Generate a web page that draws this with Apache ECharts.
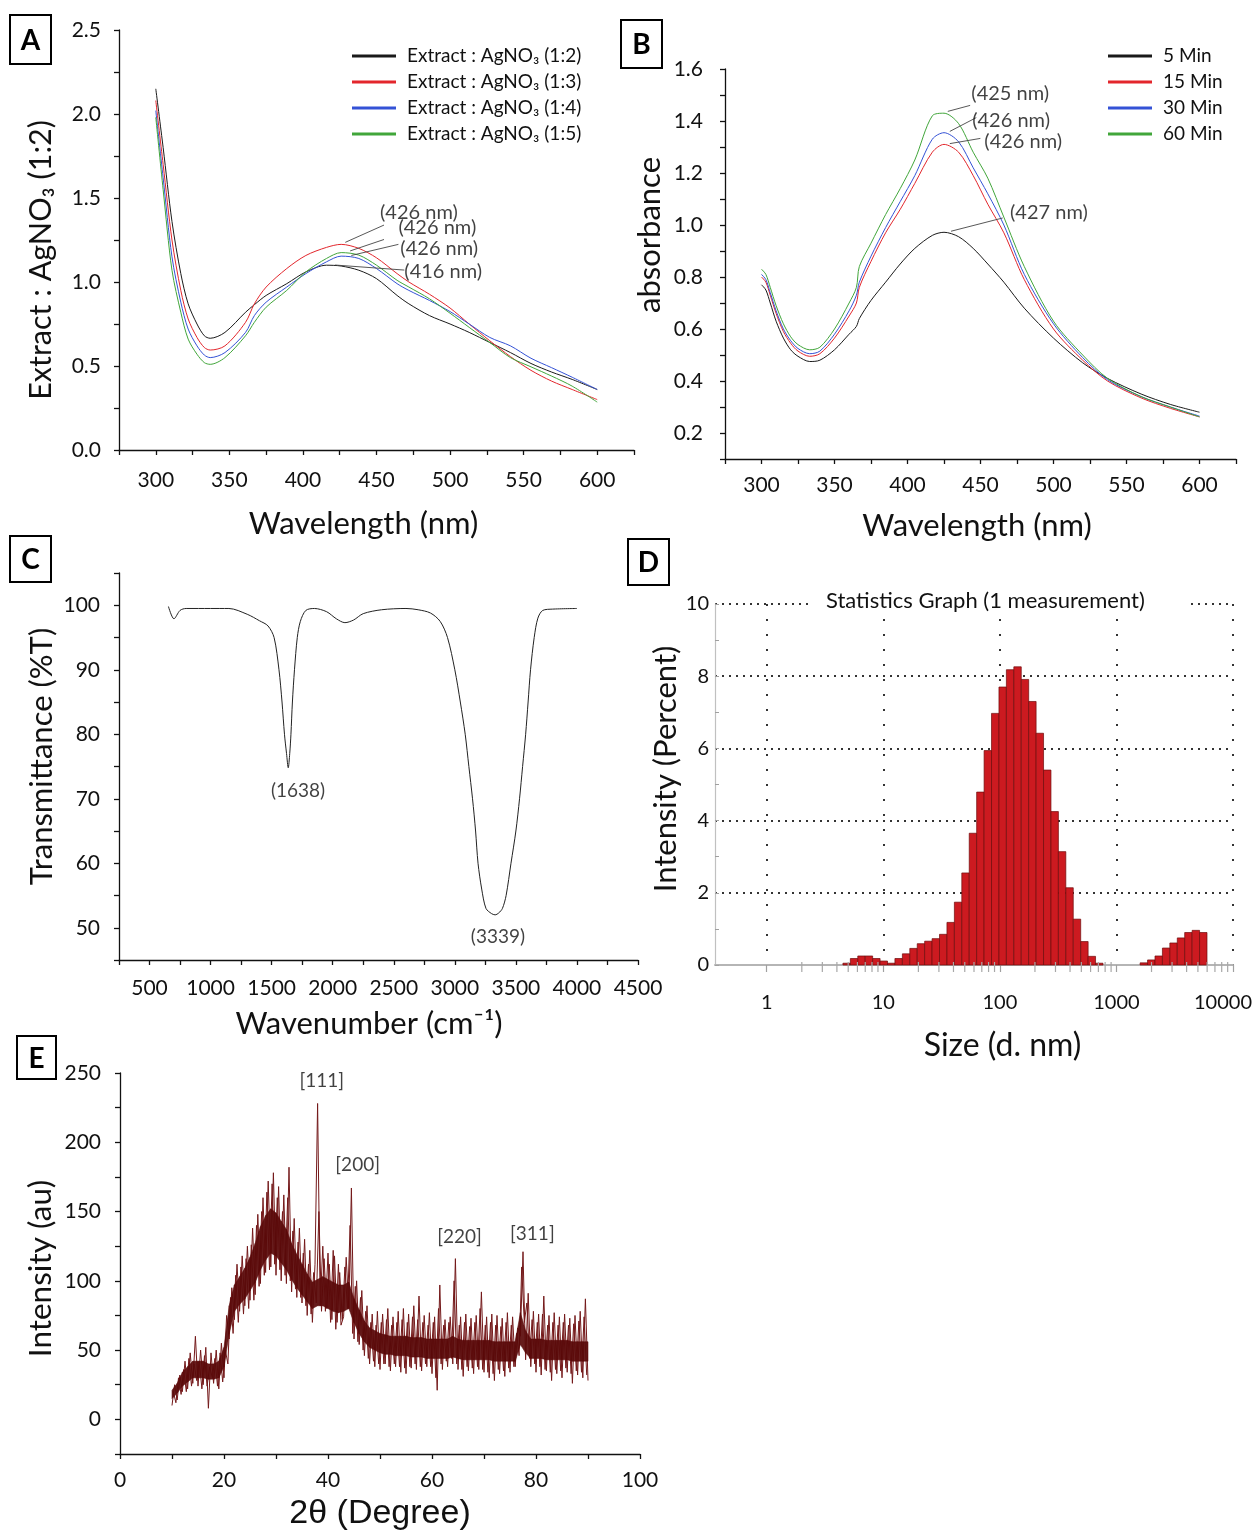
<!DOCTYPE html>
<html><head><meta charset="utf-8">
<script src="https://cdn.jsdelivr.net/npm/echarts@6/dist/echarts.min.js"></script>
<style>html,body{margin:0;padding:0;background:#fff}#c{width:1253px;height:1531px}</style>
</head><body><div id="c"></div>
<script>
// ---------- Panel A : UV-vis, extract : AgNO3 ratios ----------
var waveA = [300,305,311,317,322,328,333,337,347,361,367,375,389,402,416,426,438,450,464,472,486,500,513,527,541,555,569,583,600];
var absA_12 = [2.15,1.80,1.36,1.05,0.87,0.75,0.68,0.665,0.70,0.82,0.865,0.92,0.99,1.06,1.10,1.095,1.07,1.02,0.92,0.87,0.80,0.75,0.70,0.64,0.58,0.515,0.464,0.42,0.36];
var absA_13 = [2.08,1.70,1.25,0.95,0.78,0.67,0.61,0.595,0.62,0.76,0.87,0.97,1.08,1.158,1.206,1.224,1.20,1.144,1.05,1.00,0.927,0.845,0.75,0.65,0.556,0.474,0.41,0.36,0.30];
var absA_14 = [2.02,1.62,1.15,0.88,0.72,0.62,0.565,0.55,0.58,0.70,0.80,0.88,0.97,1.05,1.12,1.154,1.14,1.08,0.99,0.95,0.89,0.824,0.75,0.67,0.62,0.546,0.49,0.433,0.36];
var absA_15 = [1.98,1.55,1.07,0.82,0.66,0.57,0.52,0.51,0.55,0.68,0.76,0.85,0.95,1.06,1.14,1.175,1.16,1.10,1.01,0.97,0.90,0.814,0.73,0.64,0.55,0.495,0.44,0.38,0.285];
var namesA = ['Extract : AgNO\u2083 (1:2)','Extract : AgNO\u2083 (1:3)','Extract : AgNO\u2083 (1:4)','Extract : AgNO\u2083 (1:5)'];
var annoA_text = ['(426 nm)','(426 nm)','(426 nm)','(416 nm)'];
var annoA_pos = [[452.4,1.412],[464.9,1.325],[466.2,1.200],[468.9,1.061]];
var annoA_leader = [[[428.8,1.236],[455.1,1.339]],[[432.1,1.185],[455.1,1.253]],[[432.9,1.158],[464.9,1.224]],[[421.9,1.101],[468.9,1.071]]];

// ---------- Panel B : UV-vis, time ----------
var waveB = [300,303,306,310,315,320,325,333,340,350,360,365,367,375,385,395,405,417,425,435,445,455,466,480,500,520,537,560,580,600];
var absB_5  = [0.77,0.75,0.70,0.63,0.565,0.52,0.495,0.475,0.48,0.52,0.58,0.61,0.64,0.71,0.78,0.85,0.91,0.96,0.972,0.955,0.91,0.85,0.78,0.68,0.565,0.47,0.41,0.35,0.31,0.28];
var absB_15 = [0.80,0.78,0.73,0.66,0.59,0.545,0.515,0.495,0.505,0.565,0.65,0.70,0.76,0.86,0.97,1.06,1.16,1.28,1.31,1.28,1.19,1.08,0.97,0.79,0.60,0.48,0.40,0.335,0.295,0.262];
var absB_30 = [0.81,0.79,0.74,0.67,0.60,0.555,0.525,0.505,0.515,0.58,0.67,0.73,0.78,0.88,0.99,1.09,1.19,1.33,1.355,1.32,1.22,1.12,1.00,0.81,0.62,0.49,0.405,0.34,0.30,0.265];
var absB_60 = [0.83,0.81,0.76,0.69,0.62,0.57,0.54,0.52,0.53,0.60,0.70,0.76,0.84,0.93,1.04,1.14,1.25,1.42,1.43,1.39,1.28,1.18,1.03,0.84,0.63,0.50,0.41,0.34,0.30,0.262];
var namesB = ['5 Min','15 Min','30 Min','60 Min'];
var annoB_text = ['(425 nm)','(426 nm)','(426 nm)','(427 nm)'];
var annoB_pos = [[443.7,1.504],[444.3,1.403],[452.6,1.320],[470.2,1.047]];
var annoB_leader = [[[427.6,1.437],[442.9,1.460]],[[429,1.360],[447.1,1.413]],[[429,1.313],[449.9,1.333]],[[429.8,0.976],[465.2,1.027]]];

// ---------- Panel C : FTIR ----------
var irWavenumber = [655,700,750,800,1000,1150,1300,1400,1470,1520,1560,1585,1605,1622,1636,1648,1658,1670,1687,1710,1735,1780,1850,1950,2030,2100,2170,2250,2400,2600,2700,2800,2880,2940,3000,3045,3085,3115,3145,3170,3190,3220,3255,3300,3330,3360,3390,3420,3460,3500,3530,3555,3580,3600,3620,3650,3680,3720,3800,4000];
var irTransmittance = [99.8,97.9,99.2,99.5,99.5,99.5,98.6,97.6,96.8,95,90,85,80,77,74.8,77,80,85,90,95,97.5,99.2,99.5,99,97.9,97.3,97.7,98.7,99.3,99.5,99.3,98.8,97.5,95,90,85,80,75,70,65,60,56,53,52.2,52,52.3,53,55,60,65,70,75,80,85,90,95,98,99.2,99.4,99.5];
var annoC_text = ['(1638)','(3339)'];
var annoC_pos = [[1716,71.2],[3353,48.6]];

// ---------- Panel D : DLS size distribution ----------
var dlsSize = [4.849,5.615,6.503,7.531,8.721,10.10,11.70,13.54,15.69,18.17,21.04,24.36,28.21,32.67,37.84,43.82,50.75,58.77,68.06,78.82,91.28,105.7,122.4,141.8,164.2,190.1,220.2,255.0,295.3,342.0,396.1,458.7,531.2,615.1,712.4,825.0,955.4,1106,1281,1484,1718,1990,2305,2669,3091,3580,4145,4801,5560];
var dlsIntensity = [0.05,0.18,0.25,0.25,0.18,0.11,0.05,0.18,0.31,0.46,0.59,0.66,0.73,0.85,1.18,1.74,2.55,3.65,4.79,5.94,6.97,7.70,8.18,8.26,7.91,7.30,6.42,5.40,4.25,3.14,2.14,1.27,0.65,0.24,0.05,0,0,0,0,0,0.06,0.14,0.25,0.47,0.61,0.75,0.90,0.96,0.90];
var dlsMinorTicks = [2,3,4,5,6,7,8,9,20,30,40,50,60,70,80,90,200,300,400,500,600,700,800,900,2000,3000,4000,5000,6000,7000,8000,9000];
var dlsTitle = 'Statistics Graph (1 measurement)';

// ---------- Panel E : XRD ----------
var xrdAngle = [10,10.5,11,11.5,12,12.5,13,13.5,14,14.5,15,15.5,16,16.5,17,17.5,18,18.5,19,19.5,20,20.5,21,21.5,22,22.5,23,23.5,24,24.5,25,25.5,26,26.5,27,27.5,28,28.5,29,29.5,30,30.5,31,31.5,32,32.5,33,33.5,34,34.5,35,35.5,36,36.5,37,37.5,38,38.5,39,39.5,40,40.5,41,41.5,42,42.5,43,43.5,44,44.5,45,45.5,46,46.5,47,47.5,48,48.5,49,49.5,50,50.5,51,51.5,52,52.5,53,53.5,54,54.5,55,55.5,56,56.5,57,57.5,58,58.5,59,59.5,60,60.5,61,61.5,62,62.5,63,63.5,64,64.5,65,65.5,66,66.5,67,67.5,68,68.5,69,69.5,70,70.5,71,71.5,72,72.5,73,73.5,74,74.5,75,75.5,76,76.5,77,77.5,78,78.5,79,79.5,80,80.5,81,81.5,82,82.5,83,83.5,84,84.5,85,85.5,86,86.5,87,87.5,88,88.5,89,89.5,90];
var xrdIntensity = [10,25,14,32,20,42,22,48,26,60,24,50,25,52,8,48,26,50,22,55,30,75,58,95,72,112,78,118,82,125,86,138,90,148,98,160,106,172,110,178,104,168,100,162,98,182,92,145,88,138,84,130,75,122,70,112,228,82,125,78,120,70,122,65,112,68,74,117,80,167,58,100,54,93,46,82,40,76,38,78,36,76,40,80,35,74,38,78,34,80,33,76,37,82,36,89,35,75,38,77,33,74,21,97,36,72,38,74,40,116,36,74,31,76,35,73,33,75,36,92,34,74,30,76,28,75,33,73,31,77,34,74,38,66,60,121,43,91,38,78,34,76,32,89,35,75,28,77,33,74,30,76,34,73,26,75,32,78,30,87,28];
// second set of readings between the points above (quarter-degree positions)
var xrdAngleQ = [10.25,10.75,11.25,11.75,12.25,12.75,13.25,13.75,14.25,14.75,15.25,15.75,16.25,16.75,17.25,17.75,18.25,18.75,19.25,19.75,20.25,20.75,21.25,21.75,22.25,22.75,23.25,23.75,24.25,24.75,25.25,25.75,26.25,26.75,27.25,27.75,28.25,28.75,29.25,29.75,30.25,30.75,31.25,31.75,32.25,32.75,33.25,33.75,34.25,34.75,35.25,35.75,36.25,36.75,37.25,37.75,38.25,38.75,39.25,39.75,40.25,40.75,41.25,41.75,42.25,42.75,43.25,43.75,44.25,44.75,45.25,45.75,46.25,46.75,47.25,47.75,48.25,48.75,49.25,49.75,50.25,50.75,51.25,51.75,52.25,52.75,53.25,53.75,54.25,54.75,55.25,55.75,56.25,56.75,57.25,57.75,58.25,58.75,59.25,59.75,60.25,60.75,61.25,61.75,62.25,62.75,63.25,63.75,64.25,64.75,65.25,65.75,66.25,66.75,67.25,67.75,68.25,68.75,69.25,69.75,70.25,70.75,71.25,71.75,72.25,72.75,73.25,73.75,74.25,74.75,75.25,75.75,76.25,76.75,77.25,77.75,78.25,78.75,79.25,79.75,80.25,80.75,81.25,81.75,82.25,82.75,83.25,83.75,84.25,84.75,85.25,85.75,86.25,86.75,87.25,87.75,88.25,88.75,89.25,89.75];
var xrdIntensityQ = [20,12,30,18,36,20,44,24,40,28,42,22,46,24,38,30,44,24,48,27,50,40,88,62,104,70,110,76,116,80,126,86,140,96,150,104,164,108,170,112,160,108,150,104,160,100,136,94,128,88,120,82,112,76,106,84,150,78,116,80,112,72,118,70,106,72,110,80,140,62,96,56,88,50,78,44,70,42,68,40,70,40,72,38,68,40,70,38,72,37,70,38,74,40,72,38,70,40,68,38,70,30,80,40,68,42,70,44,100,40,68,36,70,38,67,37,70,38,80,36,68,34,70,33,68,36,67,35,70,37,68,38,62,46,110,70,84,44,72,40,70,38,76,36,68,34,70,36,68,35,70,37,68,33,69,35,71,34,74,32];
// dense core of the noisy trace (lower / upper edge), read at 1 degree steps
var xrdCoreAngle = [10,11,12,13,14,15,16,17,18,19,20,21,22,23,24,25,26,27,28,29,30,31,32,33,34,35,36,37,38,39,40,41,42,43,44,45,46,47,48,49,50,51,52,53,54,55,56,57,58,59,60,61,62,63,64,65,66,67,68,69,70,71,72,73,74,75,76,77,78,79,80,81,82,83,84,85,86,87,88,89,90];
var xrdCoreLow = [15,19,24,27,30,30,30,29,29,30,38,62,78,83,87,93,99,108,115,120,118,113,108,101,95,90,85,80,82,82,80,78,77,78,80,70,62,56,52,50,48,47,47,46,46,46,45,45,45,44,44,44,44,44,45,44,43,43,43,43,43,43,42,42,42,42,42,54,48,44,44,44,43,43,43,43,43,42,42,42,42];
var xrdCoreHigh = [21,26,34,38,42,42,42,40,40,42,52,82,97,103,109,117,127,139,147,152,149,143,137,127,119,112,105,99,101,103,101,99,97,97,99,87,79,71,66,64,62,61,60,60,60,60,59,59,59,58,58,58,58,58,60,58,57,57,57,57,57,57,56,56,56,56,56,77,64,58,58,58,57,57,57,57,57,56,56,56,56];
var annoE_text = ['[111]','[200]','[220]','[311]'];
var annoE_pos = [[38.8,244.5],[45.7,183.5],[65.3,131.6],[79.3,133.9]];

// ---------- helpers ----------
var FONT = 'Lato, "Open Sans", sans-serif';
function isMult(v, m) { var q = v / m; return Math.abs(q - Math.round(q)) < 1e-6; }
function pairs(xs, ys) { return xs.map(function (x, i) { return [x, ys[i]]; }); }
function labelFmt(major, digits) {
  return function (v) { return isMult(v, major) ? Number(v).toFixed(digits) : ''; };
}
function nameStyle(size, pad, family) {
  return { fontSize: size, fontFamily: family || FONT, color: '#111', padding: pad || 0 };
}
function valAxis(gi, min, max, interval, major, digits, name, nameGap, labelMargin, isY, nStyle) {
  return {
    type: 'value', gridIndex: gi, min: min, max: max, interval: interval,
    name: name, nameLocation: 'middle', nameGap: nameGap, nameRotate: isY ? 90 : 0,
    nameTextStyle: nStyle,
    axisLine: { show: true, onZero: false, lineStyle: { color: '#111', width: 1.3 } },
    axisTick: { show: true, inside: false, length: 5, lineStyle: { color: '#111', width: 1.3 } },
    axisLabel: { fontSize: 21, fontFamily: FONT, color: '#111', margin: labelMargin, formatter: labelFmt(major, digits) },
    splitLine: { show: false }
  };
}
function annoSeries(gi, texts, pos, position, fs) {
  return {
    type: 'scatter', xAxisIndex: gi, yAxisIndex: gi, symbolSize: 0, silent: true, z: 5,
    data: texts.map(function (t, i) { return { name: t, value: pos[i] }; }),
    label: { show: true, position: position, distance: 0, formatter: '{b}', fontSize: fs, fontFamily: FONT, color: '#111' }
  };
}
function leaderSeries(gi, leaders) {
  return {
    type: 'lines', coordinateSystem: 'cartesian2d', xAxisIndex: gi, yAxisIndex: gi, silent: true, z: 4,
    lineStyle: { color: '#444', width: 0.9, opacity: 1 },
    data: leaders.map(function (c) { return { coords: c }; })
  };
}
function curve(gi, name, xs, ys, color) {
  return {
    type: 'line', name: name, xAxisIndex: gi, yAxisIndex: gi, data: pairs(xs, ys),
    showSymbol: false, symbol: 'none', smooth: 0.3,
    lineStyle: { color: color, width: 1 }, itemStyle: { color: color }
  };
}
function box(x, y, w, h, letter) {
  return [
    { type: 'rect', x: x, y: y, shape: { x: 0, y: 0, width: w, height: h }, style: { fill: '#fff', stroke: '#000', lineWidth: 2 } },
    { type: 'text', x: x + w / 2, y: y + h / 2 + 1, style: { text: letter, fontSize: 28, fontWeight: 'bold', fontFamily: FONT, fill: '#000', align: 'center', verticalAlign: 'middle' } }
  ];
}
function xrdLine(name, xs, ys) {
  return {
    type: 'line', name: name, xAxisIndex: 4, yAxisIndex: 4, data: pairs(xs, ys), z: 2, silent: true,
    showSymbol: false, symbol: 'none', lineStyle: { color: '#74191a', width: 1 }
  };
}

var colA = ['#1a1a1a', '#e3262c', '#3452d6', '#41a63a'];
var colB = ['#1a1a1a', '#e3262c', '#3452d6', '#41a63a'];
var binRatio = dlsSize[1] / dlsSize[0];
var xrdCoreRows = xrdCoreAngle.map(function (a, i) { return [a, xrdCoreLow[i], xrdCoreHigh[i]]; });

var option = {
  animation: false,
  backgroundColor: '#fff',
  title: [{
    text: dlsTitle, left: 812, top: 588, backgroundColor: '#fff', padding: [2, 44, 2, 14],
    textStyle: { fontSize: 22, fontWeight: 'normal', fontFamily: FONT, color: '#111' }
  }],
  grid: [
    { left: 119, top: 30, width: 515, height: 420, outerBoundsMode: 'none' },
    { left: 725, top: 69, width: 511, height: 390, outerBoundsMode: 'none' },
    { left: 119, top: 573, width: 519, height: 387, outerBoundsMode: 'none' },
    { left: 715, top: 604, width: 518, height: 361, outerBoundsMode: 'none' },
    { left: 120, top: 1073, width: 520, height: 381, outerBoundsMode: 'none' }
  ],
  legend: [
    { data: namesA, orient: 'vertical', left: 347, top: 40, itemWidth: 44, itemHeight: 3, itemGap: 4, icon: 'rect',
      textStyle: { fontSize: 19, fontFamily: FONT, color: '#111', lineHeight: 22, padding: [0, 0, 0, 6] } },
    { data: namesB, orient: 'vertical', left: 1103, top: 40, itemWidth: 44, itemHeight: 3, itemGap: 4, icon: 'rect',
      textStyle: { fontSize: 19, fontFamily: FONT, color: '#111', lineHeight: 22, padding: [0, 0, 0, 6] } }
  ],
  xAxis: [
    valAxis(0, 275, 625, 25, 50, 0, 'Wavelength (nm)', 58, 20, false, nameStyle(31, [0, 26, 0, 0])),
    valAxis(1, 275, 625, 25, 50, 0, 'Wavelength (nm)', 51, 16, false, nameStyle(31, [0, 7, 0, 0])),
    valAxis(2, 250, 4500, 250, 500, 0, 'Wavenumber (cm\u207B\u00B9)', 48, 18, false, nameStyle(31, [0, 19, 0, 0])),
    {
      type: 'log', gridIndex: 3, logBase: 10, min: 0.36, max: 10000,
      name: 'Size (d. nm)', nameLocation: 'middle', nameGap: 65,
      nameTextStyle: nameStyle(32, [0, 0, 0, 57]),
      axisLine: { show: true, onZero: false, lineStyle: { color: '#b5b5b5', width: 2 } },
      axisTick: { show: true, inside: false, length: 7, lineStyle: { color: '#a0a0a0', width: 1.2 } },
      axisLabel: { fontSize: 20, fontFamily: FONT, color: '#111', margin: 28, showMinLabel: false,
        formatter: function (v) { var s = String(Math.round(v)); return v >= 9999 ? '{r|' + s + '}' : s; },
        rich: { r: { fontSize: 20, fontFamily: FONT, color: '#111', padding: [0, 20, 0, 0] } } },
      splitLine: { show: true, showMinLine: false, lineStyle: { color: '#333', width: 2, type: [2, 13] } }
    },
    valAxis(4, 0, 100, 10, 20, 0, '2\u03B8 (Degree)', 43, 16, false, nameStyle(34, 0, '"Liberation Sans", Arial, sans-serif'))
  ],
  yAxis: [
    valAxis(0, 0, 2.5, 0.25, 0.5, 1, 'Extract : AgNO\u2083 (1:2)', 62, 18, true, nameStyle(30.5, [0, 40, 0, 0])),
    valAxis(1, 0.1, 1.6, 0.1, 0.2, 1, 'absorbance', 60, 22, true, nameStyle(31, [0, 0, 0, 58])),
    valAxis(2, 45, 105, 5, 10, 0, 'Transmittance (%T)', 62, 19, true, nameStyle(31, [0, 0, 0, 20])),
    {
      type: 'value', gridIndex: 3, min: 0, max: 10, interval: 2,
      name: 'Intensity (Percent)', nameLocation: 'middle', nameGap: 24, nameRotate: 90,
      nameTextStyle: nameStyle(31, [0, 0, 0, 31]),
      axisLine: { show: true, onZero: false, lineStyle: { color: '#c0c0c0', width: 1.2 } },
      axisTick: { show: true, inside: true, length: 4, lineStyle: { color: '#a0a0a0' } },
      minorTick: { show: true, splitNumber: 2, length: 4, lineStyle: { color: '#a0a0a0' } },
      axisLabel: { fontSize: 20, fontFamily: FONT, color: '#111', margin: 6 },
      splitLine: { show: true, showMinLine: false, lineStyle: { color: '#333', width: 2, type: [2, 5] } }
    },
    valAxis(4, -25, 250, 25, 50, 0, 'Intensity (au)', 63, 19, true, nameStyle(31.5, [0, 10, 0, 0]))
  ],
  series: [
    curve(0, namesA[0], waveA, absA_12, colA[0]),
    curve(0, namesA[1], waveA, absA_13, colA[1]),
    curve(0, namesA[2], waveA, absA_14, colA[2]),
    curve(0, namesA[3], waveA, absA_15, colA[3]),
    leaderSeries(0, annoA_leader),
    annoSeries(0, annoA_text, annoA_pos, 'right', 20),

    curve(1, namesB[0], waveB, absB_5, colB[0]),
    curve(1, namesB[1], waveB, absB_15, colB[1]),
    curve(1, namesB[2], waveB, absB_30, colB[2]),
    curve(1, namesB[3], waveB, absB_60, colB[3]),
    leaderSeries(1, annoB_leader),
    annoSeries(1, annoB_text, annoB_pos, 'right', 20),

    {
      type: 'line', name: 'FTIR', xAxisIndex: 2, yAxisIndex: 2, data: pairs(irWavenumber, irTransmittance),
      showSymbol: false, symbol: 'none', smooth: 0.3, lineStyle: { color: '#222', width: 1 }
    },
    annoSeries(2, annoC_text, annoC_pos, 'inside', 19),

    {
      type: 'custom', name: 'DLS', xAxisIndex: 3, yAxisIndex: 3, data: pairs(dlsSize, dlsIntensity), z: 3,
      renderItem: function (params, api) {
        var c = api.value(0), h = api.value(1);
        if (!(h > 0)) return null;
        var r = Math.sqrt(binRatio);
        var p0 = api.coord([c / r, h]);
        var p1 = api.coord([c * r, 0]);
        return { type: 'rect', shape: { x: p0[0], y: p0[1], width: p1[0] - p0[0], height: p1[1] - p0[1] },
          style: { fill: '#cc1a20', stroke: '#6e0c0c', lineWidth: 0.7 } };
      }
    },
    {
      type: 'custom', name: 'DLS minor ticks', xAxisIndex: 3, yAxisIndex: 3, silent: true, z: 4,
      data: dlsMinorTicks.map(function (v) { return [v, 0]; }),
      renderItem: function (params, api) {
        var p = api.coord([api.value(0), 0]);
        return { type: 'line', shape: { x1: p[0], y1: p[1] - 3, x2: p[0], y2: p[1] + 7 },
          style: { stroke: '#a8a8a8', lineWidth: 1.2 } };
      }
    },

    xrdLine('XRD', xrdAngle, xrdIntensity),
    xrdLine('XRD (between)', xrdAngleQ, xrdIntensityQ),
    {
      type: 'custom', name: 'XRD core', xAxisIndex: 4, yAxisIndex: 4, data: xrdCoreRows, z: 3, silent: true,
      renderItem: function (params, api) {
        var i = params.dataIndex;
        if (i >= xrdCoreRows.length - 1) return null;
        var a = xrdCoreRows[i], b = xrdCoreRows[i + 1];
        var pts = [api.coord([a[0], a[1]]), api.coord([b[0], b[1]]), api.coord([b[0], b[2]]), api.coord([a[0], a[2]])];
        return { type: 'polygon', shape: { points: pts }, style: { fill: '#5a0a0a', stroke: '#5a0a0a', lineWidth: 0.6, opacity: 0.92 } };
      }
    },
    annoSeries(4, annoE_text, annoE_pos, 'inside', 19)
  ],
  graphic: [].concat(
    box(10, 15, 41, 49, 'A'),
    box(621, 20, 41, 48, 'B'),
    box(10, 536, 41, 46, 'C'),
    box(628, 539, 41, 46, 'D'),
    box(17, 1036, 39, 43, 'E')
  )
};

var chart = echarts.init(document.getElementById('c'), null, { renderer: 'canvas' });
chart.setOption(option);
</script></body></html>
